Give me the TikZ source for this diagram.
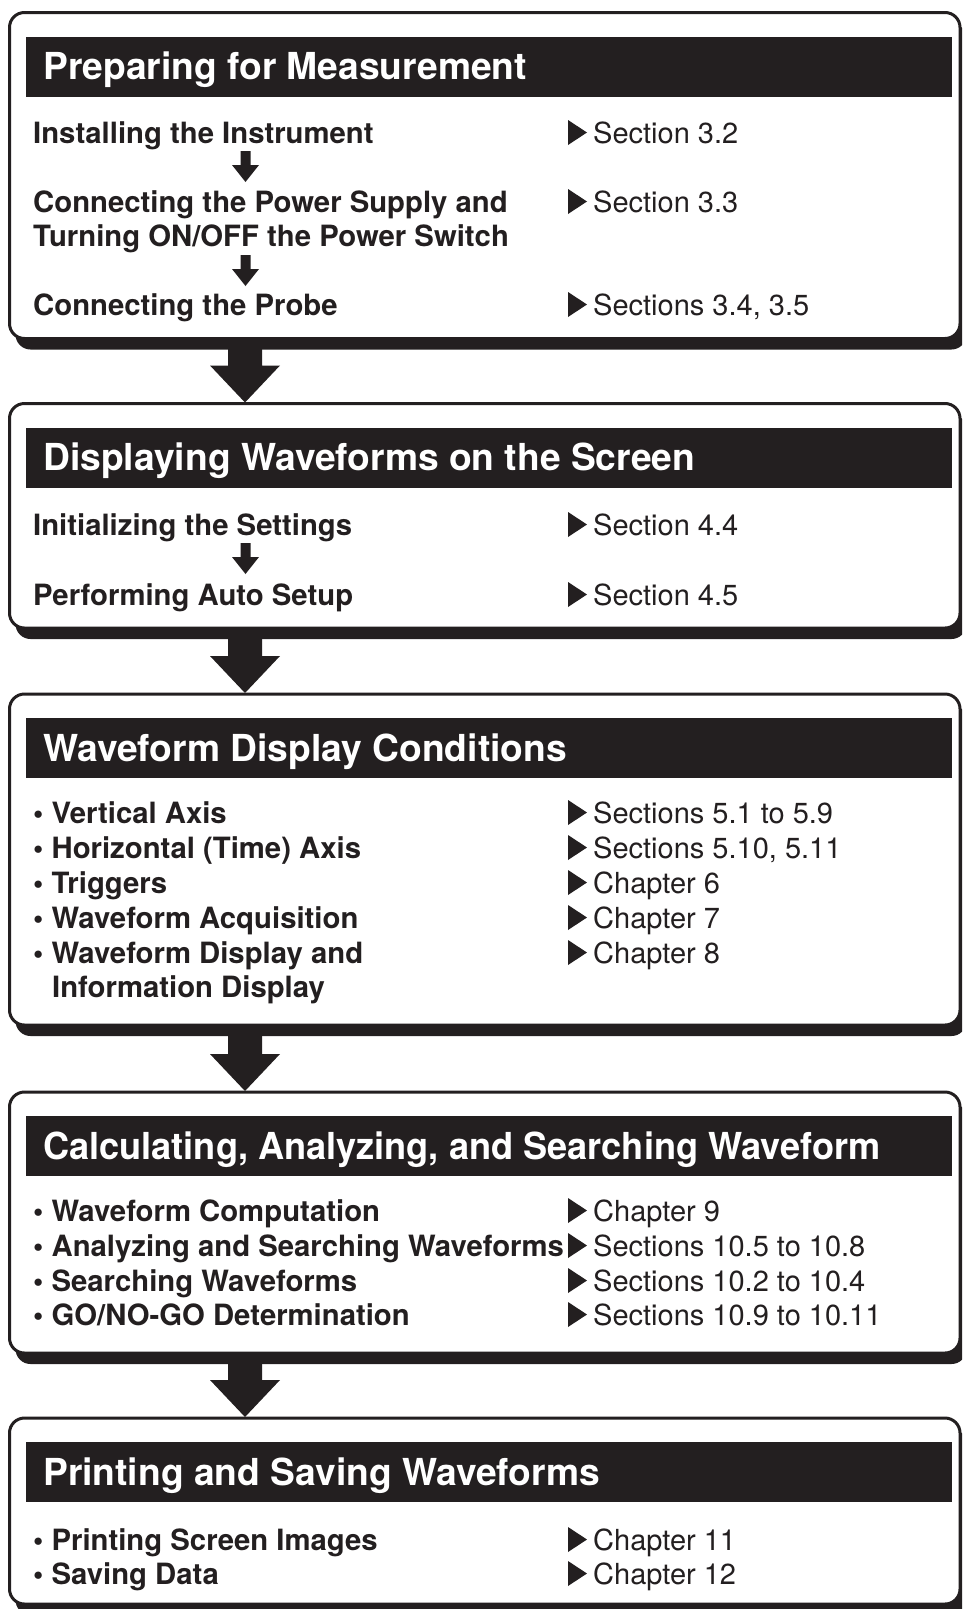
\documentclass[tikz,border=0pt]{standalone}
\usepackage{fontspec}
\setmainfont{TeX Gyre Heros}
\definecolor{ink}{HTML}{231F20}
\newcommand\FlowBox[2]{%
  \fill[ink, rounded corners=15pt] (15.5,#1+11) rectangle (966.5,#2+11);
  \draw[ink, line width=3pt, fill=white, rounded corners=15pt] (9.5,#1) rectangle (960,#2);
  \fill[ink] (26,#1+24) rectangle (952,#1+84);
}
\newcommand\BigArrow[2]{%
  \fill[ink] (228,#1) -- (262,#1) -- (262,#2-37) -- (280,#2-37) -- (245,#2) -- (210,#2-37) -- (228,#2-37) -- cycle;
}
\begin{document}
\begin{tikzpicture}[x=1pt,y=-1pt,
  lbl/.style={anchor=base west, inner sep=0pt, font=\fontsize{29.3}{34}\selectfont\bfseries, text=ink},
  refl/.style={anchor=base west, inner sep=0pt, font=\fontsize{29}{34}\selectfont, text=ink},
  ttl/.style={anchor=base west, inner sep=0pt, font=\fontsize{37.2}{42}\selectfont\bfseries, text=white},
  reftri/.pic={\fill[ink] (0,2) -- (0,-23) -- (19,-10.5) -- cycle;},
  smallarr/.pic={\fill[ink] (-5,0) -- (5,0) -- (5,14) -- (13.5,14) -- (0,31) -- (-13.5,14) -- (-5,14) -- cycle;}
]
\useasboundingbox (0,0) rectangle (962,1609);
\clip (0,0) rectangle (962,1609);
\fill[white] (0,0) rectangle (962,1609);

% ---------- Box 1
\FlowBox{12.5}{338.5}
\node[ttl] (t1) at (43,79.5) {Preparing for Measurement};
\node[lbl] (a1) at (33,143) {Installing the Instrument};
\node[lbl] (a2) at (33,212) {Connecting the Power Supply and};
\node[lbl] (a2b) at (33,246) {Turning ON/OFF the Power Switch};
\node[lbl] (a3) at (33,315) {Connecting the Probe};
\pic at (245.5,151) {smallarr};
\pic at (245.5,255) {smallarr};
\pic at (568,143) {reftri}; \node[refl] (r1) at (593,143) {Section 3.2};
\pic at (568,212) {reftri}; \node[refl] (r2) at (593,212) {Section 3.3};
\pic at (568,315) {reftri}; \node[refl] (r3) at (593,315) {Sections 3.4, 3.5};

\BigArrow{346}{402.5}

% ---------- Box 2
\FlowBox{403.5}{628}
\node[ttl] (t2) at (43,470.5) {Displaying Waveforms on the Screen};
\node[lbl] (b1) at (33,535) {Initializing the Settings};
\node[lbl] (b2) at (33,605) {Performing Auto Setup};
\pic at (245.5,543) {smallarr};
\pic at (568,535) {reftri}; \node[refl] (s1) at (593,535) {Section 4.4};
\pic at (568,605) {reftri}; \node[refl] (s2) at (593,605) {Section 4.5};

\BigArrow{635}{693}

% ---------- Box 3
\FlowBox{694}{1025}
\node[ttl] (t3) at (43,761) {Waveform Display Conditions};
\node[lbl] (c1) at (33,823) {• Vertical Axis};
\node[lbl] (c2) at (33,858) {• Horizontal (Time) Axis};
\node[lbl] (c3) at (33,893) {• Triggers};
\node[lbl] (c4) at (33,928) {• Waveform Acquisition};
\node[lbl] (c5) at (33,963) {• Waveform Display and};
\node[lbl] (c5b) at (52,997.5) {Information Display};
\pic at (568,823) {reftri}; \node[refl] (u1) at (593,823) {Sections 5.1 to 5.9};
\pic at (568,858) {reftri}; \node[refl] (u2) at (593,858) {Sections 5.10, 5.11};
\pic at (568,893) {reftri}; \node[refl] (u3) at (593,893) {Chapter 6};
\pic at (568,928) {reftri}; \node[refl] (u4) at (593,928) {Chapter 7};
\pic at (568,963) {reftri}; \node[refl] (u5) at (593,963) {Chapter 8};

\BigArrow{1032}{1091}

% ---------- Box 4
\FlowBox{1092}{1353}
\node[ttl] (t4) at (43,1159) {\scalebox{0.972}[1]{Calculating, Analyzing, and Searching Waveform}};
\node[lbl] (d1) at (33,1221) {• Waveform Computation};
\node[lbl] (d2) at (33,1256) {• Analyzing and Searching Waveforms};
\node[lbl] (d3) at (33,1291) {• Searching Waveforms};
\node[lbl] (d4) at (33,1325) {• GO/NO-GO Determination};
\pic at (568,1221) {reftri}; \node[refl] (v1) at (593,1221) {Chapter 9};
\pic at (568,1256) {reftri}; \node[refl] (v2) at (593,1256) {Sections 10.5 to 10.8};
\pic at (568,1291) {reftri}; \node[refl] (v3) at (593,1291) {Sections 10.2 to 10.4};
\pic at (568,1325) {reftri}; \node[refl] (v4) at (593,1325) {Sections 10.9 to 10.11};

\BigArrow{1360}{1417}

% ---------- Box 5
\FlowBox{1418}{1604}
\node[ttl] (t5) at (43,1485) {Printing and Saving Waveforms};
\node[lbl] (e1) at (33,1550) {• Printing Screen Images};
\node[lbl] (e2) at (33,1584) {• Saving Data};
\pic at (568,1550) {reftri}; \node[refl] (w1) at (593,1550) {Chapter 11};
\pic at (568,1584) {reftri}; \node[refl] (w2) at (593,1584) {Chapter 12};
\end{tikzpicture}
\end{document}
